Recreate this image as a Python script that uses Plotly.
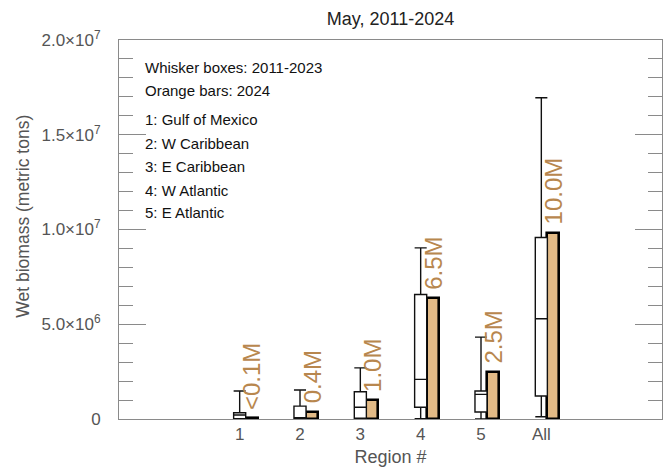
import plotly.graph_objects as go

# ---- data ----
regions = ['1', '2', '3', '4', '5', 'All']
x_pos = [1, 2, 3, 4, 5, 6]
box_low = [0.0, 0.0, 0.0, 0.02e6, 0.0, 0.12e6]
box_q1 = [0.02e6, 0.02e6, 0.04e6, 0.62e6, 0.37e6, 1.21e6]
box_median = [0.21e6, 0.04e6, 0.62e6, 2.09e6, 1.30e6, 5.29e6]
box_q3 = [0.33e6, 0.68e6, 1.44e6, 6.57e6, 1.48e6, 9.58e6]
box_high = [1.48e6, 1.53e6, 2.70e6, 9.03e6, 4.32e6, 16.95e6]
bar_2024 = [0.06e6, 0.38e6, 1.0e6, 6.41e6, 2.48e6, 9.84e6]
bar_labels = ['<0.1M', '0.4M', '1.0M', '6.5M', '2.5M', '10.0M']

y_tickvals = [0, 5e6, 1e7, 1.5e7, 2e7]
y_ticktext = ['0', '5.0×10<sup>6</sup>', '1.0×10<sup>7</sup>',
              '1.5×10<sup>7</sup>', '2.0×10<sup>7</sup>']

notes = ['Whisker boxes: 2011-2023', 'Orange bars: 2024',
         '1: Gulf of Mexico', '2: W Caribbean', '3: E Caribbean',
         '4: W Atlantic', '5: E Atlantic']
notes_y = [0.928, 0.868, 0.789, 0.728, 0.665, 0.604, 0.544]

FONT = 'Liberation Sans, Arial, Helvetica, sans-serif'
BAR_FILL = '#E2BA86'
LABEL_COL = '#B8874E'
AXIS_COL = '#8a8a8a'
TXT_GRAY = '#555555'

fig = go.Figure()

fig.add_trace(go.Box(
    x=x_pos, q1=box_q1, median=box_median, q3=box_q3,
    lowerfence=box_low, upperfence=box_high,
    width=0.2, whiskerwidth=1, boxpoints=False,
    fillcolor='white', line=dict(color='#111111', width=1.4),
    showlegend=False, hoverinfo='skip'))

fig.add_trace(go.Bar(
    x=x_pos, y=bar_2024, width=0.2, offset=0.1,
    marker=dict(color=BAR_FILL, line=dict(color='#000000', width=2.6)),
    showlegend=False, hoverinfo='skip'))

annotations = []
for xp, v, lab in zip(x_pos, bar_2024, bar_labels):
    annotations.append(dict(
        x=xp + 0.2, y=v, xref='x', yref='y', text=lab, showarrow=False,
        textangle=-90, xanchor='center', yanchor='bottom', yshift=6,
        font=dict(family=FONT, size=24, color=LABEL_COL)))

for t, yy in zip(notes, notes_y):
    annotations.append(dict(
        x=0.044, y=yy, xref='paper', yref='paper', text=t, showarrow=False,
        xanchor='left', yanchor='middle',
        font=dict(family=FONT, size=15, color='#111111')))

annotations.append(dict(
    x=-0.176, y=0.535, xref='paper', yref='paper',
    text='Wet biomass (metric tons)', showarrow=False, textangle=-90,
    xanchor='center', yanchor='middle',
    font=dict(family=FONT, size=17.5, color=TXT_GRAY)))

fig.update_layout(
    width=663, height=467,
    margin=dict(l=119, r=1, t=39.5, b=48),
    paper_bgcolor='white', plot_bgcolor='white',
    title=dict(text='May, 2011-2024', x=0.589, xanchor='center',
               y=0.96, yanchor='middle',
               font=dict(family=FONT, size=18, color='#222222')),
    annotations=annotations,
    bargap=0, boxgap=0,
)

fig.update_xaxes(
    range=[-1, 8], tickvals=x_pos, ticktext=regions,
    showgrid=False, zeroline=False, ticks='',
    showline=True, linecolor=AXIS_COL, linewidth=1, mirror=True,
    tickfont=dict(family=FONT, size=17, color=TXT_GRAY),
    title=dict(text='Region #', standoff=8,
               font=dict(family=FONT, size=18, color=TXT_GRAY)))

fig.update_yaxes(
    range=[0, 2e7], tickvals=y_tickvals, ticktext=y_ticktext,
    showgrid=False, zeroline=False,
    ticks='inside', ticklen=27, tickcolor=AXIS_COL, tickwidth=1,
    minor=dict(dtick=1e6, ticks='inside', ticklen=14,
               tickcolor=AXIS_COL, tickwidth=1, showgrid=False),
    showline=True, linecolor=AXIS_COL, linewidth=1, mirror='ticks',
    ticklabelstandoff=14,
    tickfont=dict(family=FONT, size=17, color=TXT_GRAY))

fig.write_html('out.html',
               config={'displayModeBar': False},
               post_script="document.body.style.margin='0';"
                           "document.body.style.padding='0';")
